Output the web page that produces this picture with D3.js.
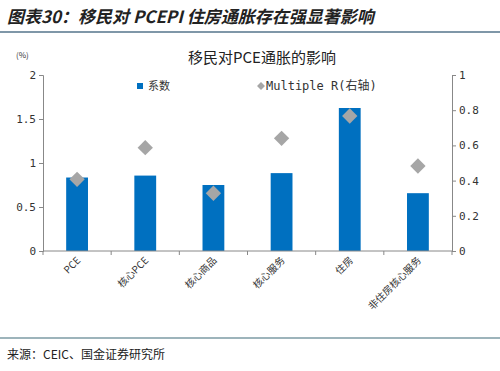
<!DOCTYPE html>
<html>
<head>
<meta charset="utf-8">
<script src="https://cdn.jsdelivr.net/npm/d3@7"></script>
<style>
body { margin: 0; background: #fff; }
svg { display: block; font-family: "Noto Sans CJK SC", "DejaVu Sans", sans-serif; }
</style>
</head>
<body>
<script>
var categories = ["PCE", "核心PCE", "核心商品", "核心服务", "住房", "非住房核心服务"];
var coef = [0.835, 0.857, 0.75, 0.885, 1.625, 0.657];
var multipleR = [0.407, 0.587, 0.328, 0.64, 0.767, 0.483];
var leftTicks = [0, 0.5, 1, 1.5, 2];
var rightTicks = [0, 0.2, 0.4, 0.6, 0.8, 1];

var W = 500, H = 371;
var margin = { top: 75, right: 48, bottom: 120, left: 43 };
var width = W - margin.left - margin.right;
var height = H - margin.top - margin.bottom;

var svg = d3.select("body").append("svg")
    .attr("width", W)
    .attr("height", H);

// header
svg.append("text")
    .attr("x", 7)
    .attr("y", 23)
    .style("font-size", "17px")
    .style("font-style", "italic")
    .style("font-weight", "bold")
    .attr("fill", "#222")
    .text("图表30：移民对 PCEPI 住房通胀存在强显著影响");

svg.append("line")
    .attr("x1", 0).attr("x2", W)
    .attr("y1", 32).attr("y2", 32)
    .attr("stroke", "#7f97a8")
    .attr("stroke-width", 2);

svg.append("line")
    .attr("x1", 0).attr("x2", W)
    .attr("y1", 338).attr("y2", 338)
    .attr("stroke", "#3c6a78")
    .attr("stroke-width", 1.2);

svg.append("text")
    .attr("x", 7)
    .attr("y", 359)
    .style("font-size", "12px")
    .attr("fill", "#222")
    .text("来源：CEIC、国金证券研究所");

// chart title
svg.append("text")
    .attr("x", 262)
    .attr("y", 63)
    .attr("text-anchor", "middle")
    .style("font-size", "15px")
    .attr("fill", "#222")
    .text("移民对PCE通胀的影响");

svg.append("text")
    .attr("x", 16)
    .attr("y", 58)
    .style("font-size", "8px")
    .attr("fill", "#333")
    .text("(%)");

var g = svg.append("g")
    .attr("transform", "translate(" + margin.left + "," + margin.top + ")");

var x = d3.scaleBand()
    .domain(categories)
    .range([0, width])
    .paddingInner(0.68)
    .paddingOuter(0.34);

var xBound = d3.scaleLinear()
    .domain([0, categories.length])
    .range([0, width]);

var y = d3.scaleLinear().domain([0, 2]).range([height, 0]);
var y2 = d3.scaleLinear().domain([0, 1]).range([height, 0]);

// bars
g.selectAll(".bar")
    .data(coef)
    .enter().append("rect")
    .attr("class", "bar")
    .attr("x", function (d, i) { return x(categories[i]); })
    .attr("width", x.bandwidth())
    .attr("y", function (d) { return y(d); })
    .attr("height", function (d) { return height - y(d); })
    .attr("fill", "#0070c0");

// diamonds
var diamond = d3.symbol().type(d3.symbolDiamond2).size(150);
g.selectAll(".pt")
    .data(multipleR)
    .enter().append("path")
    .attr("class", "pt")
    .attr("d", diamond)
    .attr("transform", function (d, i) {
        return "translate(" + (x(categories[i]) + x.bandwidth() / 2) + "," + y2(d) + ")";
    })
    .attr("fill", "#a6a6a6");

// left axis
var yAxis = d3.axisLeft(y).tickValues(leftTicks).tickSize(4).tickFormat(d3.format(""));
var gy = g.append("g").call(yAxis);
gy.select(".domain").attr("stroke", "#888");
gy.selectAll(".tick line").attr("stroke", "#888");
gy.selectAll(".tick text")
    .style("font-size", "11px")
    .style("font-family", "DejaVu Sans Mono, monospace")
    .attr("fill", "#333");

// right axis
var yAxis2 = d3.axisRight(y2).tickValues(rightTicks).tickSize(4).tickFormat(d3.format(""));
var gy2 = g.append("g").attr("transform", "translate(" + width + ",0)").call(yAxis2);
gy2.select(".domain").attr("stroke", "#888");
gy2.selectAll(".tick line").attr("stroke", "#888");
gy2.selectAll(".tick text")
    .style("font-size", "11px")
    .style("font-family", "DejaVu Sans Mono, monospace")
    .attr("fill", "#333");

// bottom axis
g.append("line")
    .attr("x1", 0).attr("x2", width)
    .attr("y1", height).attr("y2", height)
    .attr("stroke", "#888");

g.selectAll(".xtick")
    .data(d3.range(categories.length + 1))
    .enter().append("line")
    .attr("x1", function (d) { return xBound(d); })
    .attr("x2", function (d) { return xBound(d); })
    .attr("y1", height).attr("y2", height + 4)
    .attr("stroke", "#888");

g.selectAll(".xlabel")
    .data(categories)
    .enter().append("text")
    .attr("class", "xlabel")
    .attr("transform", function (d) {
        return "translate(" + (x(d) + x.bandwidth() / 2 + 4) + "," + (height + 10) + ") rotate(-45)";
    })
    .attr("text-anchor", "end")
    .style("font-size", "10px")
    .attr("fill", "#333")
    .text(function (d) { return d; });

// legend
var leg = svg.append("g");
leg.append("rect")
    .attr("x", 137).attr("y", 83)
    .attr("width", 6).attr("height", 6)
    .attr("fill", "#0070c0");
leg.append("text")
    .attr("x", 148).attr("y", 90)
    .style("font-size", "11px")
    .attr("fill", "#333")
    .text("系数");
leg.append("path")
    .attr("d", d3.symbol().type(d3.symbolDiamond2).size(40))
    .attr("transform", "translate(261,86)")
    .attr("fill", "#a6a6a6");
leg.append("text")
    .attr("x", 266).attr("y", 90)
    .style("font-size", "12px")
    .style("font-family", "DejaVu Sans Mono, 'Noto Sans CJK SC', monospace")
    .attr("fill", "#333")
    .text("Multiple R(右轴)");
</script>
</body>
</html>
